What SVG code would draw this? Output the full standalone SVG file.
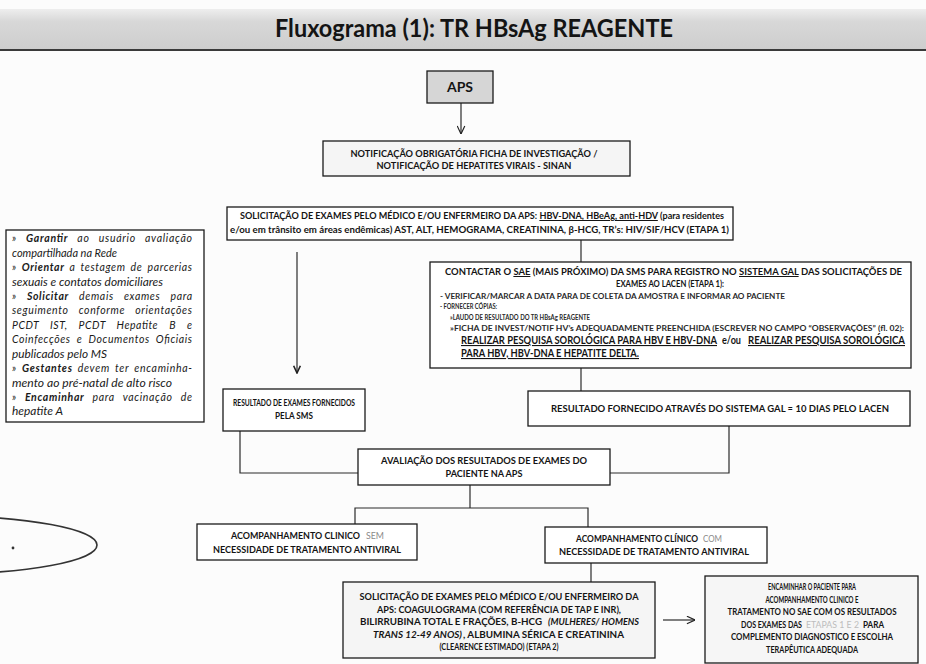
<svg xmlns="http://www.w3.org/2000/svg" width="926" height="664" viewBox="0 0 926 664">
<defs>
<linearGradient id="band" x1="0" y1="0" x2="0" y2="1">
<stop offset="0" stop-color="#eeeeee"/>
<stop offset="0.3" stop-color="#d8d8d8"/>
<stop offset="1" stop-color="#cdcdcd"/>
</linearGradient>
<marker id="ah" viewBox="0 0 10 10" refX="9.5" refY="5" markerWidth="9" markerHeight="9" markerUnits="userSpaceOnUse" orient="auto">
<path d="M0.5,0.8 L9.5,5 L0.5,9.2" fill="none" stroke="#222" stroke-width="1.3"/>
</marker>
<marker id="ahf" viewBox="0 0 10 10" refX="9.5" refY="5" markerWidth="9" markerHeight="8" markerUnits="userSpaceOnUse" orient="auto">
<path d="M0.5,0.8 L9.5,5 L0.5,9.2" fill="none" stroke="#222" stroke-width="2"/>
</marker>
</defs>
<style>
.t{font-family:Lato,'Liberation Sans',sans-serif;font-weight:700;fill:#141414}
.n{font-family:Lato,'Liberation Sans',sans-serif;font-weight:700;fill:#2a2a2a}
.it{font-family:Lato,'Liberation Sans',sans-serif;font-style:italic;font-size:10.5px;fill:#1a1a1a}
.box{fill:#ffffff;stroke:#1b1b1b;stroke-width:1.3}
.c{stroke:#2a2a2a;stroke-width:1.2;fill:none}
.u{text-decoration:underline}
.g1{font-family:Lato,'Liberation Sans',sans-serif;font-weight:400;fill:#8a8a8a}
.g2{font-family:Lato,'Liberation Sans',sans-serif;font-weight:400;fill:#bdbdbd}
</style>
<rect x="0" y="0" width="926" height="664" fill="#fcfcfc"/>

<g id="title">
<rect x="0" y="9" width="926" height="41" fill="url(#band)"/>
<line x1="0" y1="50" x2="926" y2="50" stroke="#3a3a3a" stroke-width="2"/>
<text class="t" x="474" y="37" font-size="25" text-anchor="middle" textLength="398" lengthAdjust="spacingAndGlyphs">Fluxograma (1): TR HBsAg REAGENTE</text>
</g>

<g id="connectors">
<line class="c" x1="461" y1="103" x2="461" y2="134" marker-end="url(#ah)"/>
<line class="c" x1="581" y1="240" x2="581" y2="262"/>
<line class="c" x1="297" y1="252" x2="297" y2="373" marker-end="url(#ahf)"/>
<line class="c" x1="581" y1="368" x2="581" y2="391"/>
<polyline class="c" points="240,431 240,473 358,473"/>
<polyline class="c" points="729,426 729,473 610,473"/>
<line class="c" x1="470" y1="485" x2="470" y2="508"/>
<polyline class="c" points="355,524 355,508 588,508 588,527"/>
<line class="c" x1="591" y1="563" x2="591" y2="582"/>
<line class="c" x1="663" y1="620" x2="695" y2="620" marker-end="url(#ah)"/>
</g>

<g id="aps">
<rect x="427" y="71" width="66" height="32" fill="#d6d6d6" stroke="#1b1b1b" stroke-width="1.3"/>
<text class="t" x="460" y="92" font-size="14" text-anchor="middle">APS</text>
</g>

<g id="notificacao">
<rect class="box" x="323" y="141" width="307" height="35" style="fill:#f5f5f5"/>
<text class="t" x="474" y="157" font-size="10" text-anchor="middle" textLength="247" lengthAdjust="spacingAndGlyphs">NOTIFICAÇÃO OBRIGATÓRIA  FICHA DE INVESTIGAÇÃO /</text>
<text class="t" x="474" y="168.5" font-size="10" text-anchor="middle" textLength="195" lengthAdjust="spacingAndGlyphs">NOTIFICAÇÃO  DE HEPATITES VIRAIS - SINAN</text>
</g>

<g id="solicitacao1">
<rect class="box" x="227" y="207" width="506" height="33"/>
<text class="t" x="240" y="219" font-size="10" textLength="484" lengthAdjust="spacingAndGlyphs">SOLICITAÇÃO DE EXAMES PELO MÉDICO E/OU ENFERMEIRO DA APS: <tspan class="u">HBV-DNA, HBeAg, anti-HDV</tspan> (para residentes</text>
<text class="t" x="230" y="233" font-size="10" textLength="499" lengthAdjust="spacingAndGlyphs">e/ou em trânsito em áreas endêmicas) AST, ALT, HEMOGRAMA, CREATININA,  β-HCG,  TR’s: HIV/SIF/HCV (ETAPA 1)</text>
</g>

<g id="orientacoes">
<rect class="box" x="6" y="230" width="198" height="192"/>
<text class="it" x="12" y="242" word-spacing="6" textLength="180" lengthAdjust="spacing">» <tspan font-weight="700">Garantir</tspan> ao usuário avaliação</text>
<text class="it" x="12" y="257" textLength="105" lengthAdjust="spacingAndGlyphs">compartilhada na Rede</text>
<text class="it" x="12" y="271" word-spacing="2" textLength="180" lengthAdjust="spacing">» <tspan font-weight="700">Orientar</tspan> a testagem de parcerias</text>
<text class="it" x="12" y="286" textLength="151" lengthAdjust="spacingAndGlyphs">sexuais e contatos domiciliares</text>
<text class="it" x="12" y="300" word-spacing="7" textLength="180" lengthAdjust="spacing">» <tspan font-weight="700">Solicitar</tspan> demais exames para</text>
<text class="it" x="12" y="314" word-spacing="7" textLength="180" lengthAdjust="spacing">seguimento conforme orientações</text>
<text class="it" x="12" y="329" word-spacing="8" textLength="180" lengthAdjust="spacing">PCDT IST, PCDT Hepatite B e</text>
<text class="it" x="12" y="343" word-spacing="3" textLength="180" lengthAdjust="spacing">Coinfecções e Documentos Oficiais</text>
<text class="it" x="12" y="358" textLength="95" lengthAdjust="spacingAndGlyphs">publicados pelo MS</text>
<text class="it" x="12" y="372" word-spacing="2" textLength="180" lengthAdjust="spacing">» <tspan font-weight="700">Gestantes</tspan> devem ter encaminha-</text>
<text class="it" x="12" y="387" textLength="160" lengthAdjust="spacingAndGlyphs">mento ao pré-natal de alto risco</text>
<text class="it" x="12" y="401" word-spacing="5" textLength="180" lengthAdjust="spacing">» <tspan font-weight="700">Encaminhar</tspan> para vacinação de</text>
<text class="it" x="12" y="415" textLength="51" lengthAdjust="spacingAndGlyphs">hepatite A</text>
</g>

<g id="contactar">
<rect class="box" x="430" y="262" width="481" height="106"/>
<text class="t" x="445" y="275" font-size="10" textLength="457" lengthAdjust="spacingAndGlyphs">CONTACTAR O <tspan class="u">SAE</tspan> (MAIS PRÓXIMO) DA SMS PARA REGISTRO NO <tspan class="u">SISTEMA GAL</tspan>  DAS SOLICITAÇÕES DE</text>
<text class="t" x="670" y="287" font-size="10" text-anchor="middle" textLength="108" lengthAdjust="spacingAndGlyphs">EXAMES AO LACEN (ETAPA 1):</text>
<text class="n" x="440" y="299" font-size="7.5" textLength="345" lengthAdjust="spacingAndGlyphs">- VERIFICAR/MARCAR  A DATA PARA DE COLETA DA AMOSTRA E  INFORMAR AO PACIENTE</text>
<text class="n" x="440" y="309" font-size="7.5" textLength="57" lengthAdjust="spacingAndGlyphs">- FORNECER CÓPIAS:</text>
<text class="n" x="450" y="319.5" font-size="7.5" textLength="140" lengthAdjust="spacingAndGlyphs">»LAUDO DE RESULTADO DO TR HBsAg REAGENTE</text>
<text class="n" x="450" y="330.5" font-size="7.5" textLength="454" lengthAdjust="spacingAndGlyphs">»FICHA DE INVEST/NOTIF HV’s ADEQUADAMENTE PREENCHIDA (ESCREVER  NO CAMPO “OBSERVAÇÕES”  (fl. 02):</text>
<text class="t u" x="461" y="344" font-size="11" textLength="256" lengthAdjust="spacingAndGlyphs">REALIZAR PESQUISA  SOROLÓGICA  PARA HBV E HBV-DNA</text>
<text class="t" x="722" y="344" font-size="11" textLength="19" lengthAdjust="spacingAndGlyphs">e/ou</text>
<text class="t u" x="748" y="344" font-size="11" textLength="157" lengthAdjust="spacingAndGlyphs">REALIZAR PESQUISA  SOROLÓGICA</text>
<text class="t u" x="461" y="357" font-size="11" textLength="178" lengthAdjust="spacingAndGlyphs">PARA HBV,  HBV-DNA E HEPATITE DELTA.</text>
</g>

<g id="resultado-sms">
<rect class="box" x="223" y="389" width="142" height="42"/>
<text class="t" x="294" y="406" font-size="10" text-anchor="middle" textLength="122" lengthAdjust="spacingAndGlyphs">RESULTADO  DE EXAMES FORNECIDOS</text>
<text class="t" x="294" y="419" font-size="10" text-anchor="middle" textLength="38" lengthAdjust="spacingAndGlyphs">PELA SMS</text>
</g>

<g id="resultado-gal">
<rect class="box" x="528" y="391" width="382" height="35"/>
<text class="t" x="720" y="412" font-size="10" text-anchor="middle" textLength="338" lengthAdjust="spacingAndGlyphs">RESULTADO FORNECIDO ATRAVÉS DO SISTEMA GAL ≈ 10 DIAS PELO LACEN</text>
</g>

<g id="avaliacao">
<rect class="box" x="358" y="449" width="252" height="36"/>
<text class="t" x="484" y="464" font-size="10" text-anchor="middle" textLength="206" lengthAdjust="spacingAndGlyphs">AVALIAÇÃO DOS  RESULTADOS  DE EXAMES DO</text>
<text class="t" x="484" y="477" font-size="10" text-anchor="middle" textLength="77" lengthAdjust="spacingAndGlyphs">PACIENTE NA APS</text>
</g>

<g id="acomp-sem">
<rect class="box" x="197" y="524" width="220" height="36"/>
<text class="t" x="231" y="539" font-size="10" textLength="129" lengthAdjust="spacingAndGlyphs">ACOMPANHAMENTO  CLINICO</text>
<text class="g1" x="366" y="539" font-size="10" textLength="18" lengthAdjust="spacingAndGlyphs">SEM</text>
<text class="t" x="307" y="553" font-size="10" text-anchor="middle" textLength="188" lengthAdjust="spacingAndGlyphs">NECESSIDADE DE TRATAMENTO ANTIVIRAL</text>
</g>

<g id="acomp-com">
<rect class="box" x="545" y="527" width="222" height="36"/>
<text class="t" x="576" y="541.5" font-size="10" textLength="122" lengthAdjust="spacingAndGlyphs">ACOMPANHAMENTO CLÍNICO</text>
<text class="g1" x="703" y="541.5" font-size="10" textLength="19" lengthAdjust="spacingAndGlyphs">COM</text>
<text class="t" x="654" y="555" font-size="10" text-anchor="middle" textLength="190" lengthAdjust="spacingAndGlyphs">NECESSIDADE DE TRATAMENTO ANTIVIRAL</text>
</g>

<g id="solicitacao2">
<rect class="box" x="343" y="582" width="312" height="76" style="fill:#f5f5f5"/>
<text class="t" x="499" y="600" font-size="10" text-anchor="middle" textLength="279" lengthAdjust="spacingAndGlyphs">SOLICITAÇÃO DE EXAMES PELO MÉDICO E/OU ENFERMEIRO DA</text>
<text class="t" x="499" y="612.5" font-size="10" text-anchor="middle" textLength="244" lengthAdjust="spacingAndGlyphs">APS:  COAGULOGRAMA (COM REFERÊNCIA DE TAP E INR),</text>
<text class="t" x="360" y="625" font-size="10" textLength="182" lengthAdjust="spacingAndGlyphs">BILIRRUBINA TOTAL E FRAÇÕES, B-HCG</text>
<text class="t" x="548" y="625" font-size="10" font-style="italic" textLength="91" lengthAdjust="spacingAndGlyphs">(MULHERES/ HOMENS</text>
<text class="t" x="373" y="637.5" font-size="10" font-style="italic" textLength="89" lengthAdjust="spacingAndGlyphs">TRANS 12-49 ANOS)</text>
<text class="t" x="463" y="637.5" font-size="10" textLength="161" lengthAdjust="spacingAndGlyphs">, ALBUMINA SÉRICA E CREATININA</text>
<text class="t" x="499" y="650" font-size="10" text-anchor="middle" textLength="119" lengthAdjust="spacingAndGlyphs">(CLEARENCE ESTIMADO) (ETAPA 2)</text>
</g>

<g id="encaminhar">
<rect class="box" x="705" y="576" width="213" height="87" style="fill:#f6f6f6"/>
<text class="t" x="812" y="590" font-size="10" text-anchor="middle" textLength="88" lengthAdjust="spacingAndGlyphs">ENCAMINHAR O PACIENTE PARA</text>
<text class="t" x="812" y="602.5" font-size="10" text-anchor="middle" textLength="93" lengthAdjust="spacingAndGlyphs">ACOMPANHAMENTO  CLINICO E</text>
<text class="t" x="812" y="615" font-size="9.5" text-anchor="middle" textLength="169" lengthAdjust="spacingAndGlyphs">TRATAMENTO NO SAE COM OS RESULTADOS</text>
<text class="t" x="741" y="627.5" font-size="10" textLength="61" lengthAdjust="spacingAndGlyphs">DOS EXAMES DAS</text>
<text class="g2" x="806" y="627.5" font-size="10" textLength="53" lengthAdjust="spacingAndGlyphs">ETAPAS 1 E 2</text>
<text class="t" x="863" y="627.5" font-size="10" textLength="21" lengthAdjust="spacingAndGlyphs">PARA</text>
<text class="t" x="812" y="640" font-size="9.5" text-anchor="middle" textLength="162" lengthAdjust="spacingAndGlyphs">COMPLEMENTO DIAGNOSTICO E ESCOLHA</text>
<text class="t" x="812" y="652.5" font-size="10" text-anchor="middle" textLength="92" lengthAdjust="spacingAndGlyphs">TERAPÊUTICA ADEQUADA</text>
</g>

<g id="ellipse">
<ellipse cx="-60" cy="545" rx="157" ry="29" fill="none" stroke="#333" stroke-width="1.6"/>
<circle cx="13" cy="548" r="1.4" fill="#333"/>
</g>
</svg>
